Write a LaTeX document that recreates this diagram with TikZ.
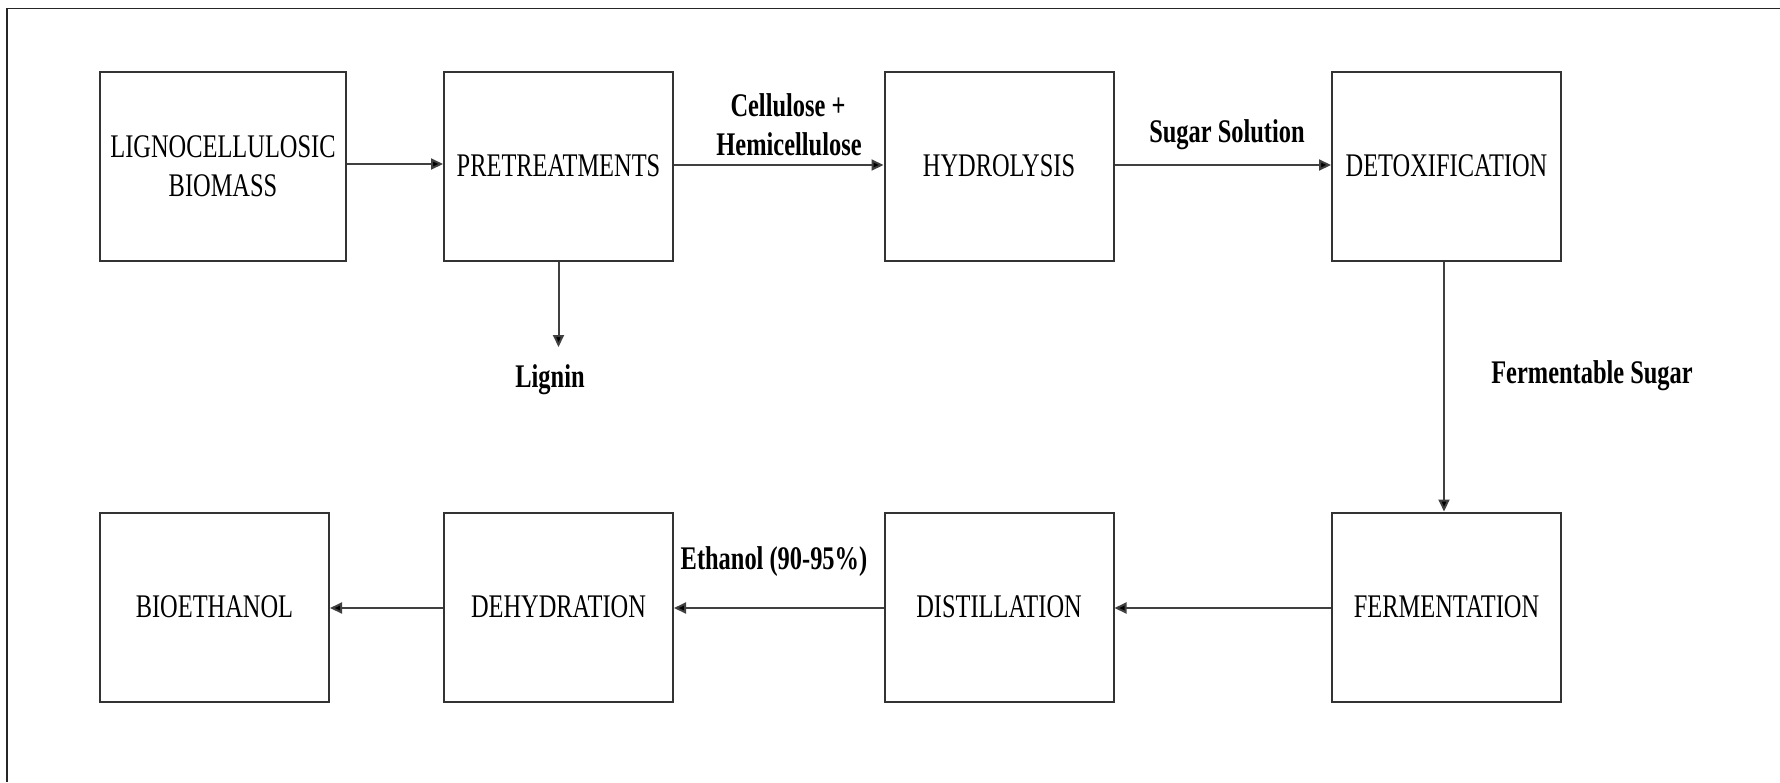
\documentclass[tikz,border=0pt]{standalone}
\usepackage{fontspec}
\setmainfont{Liberation Serif}
\newfontfamily\boxfont[FakeStretch=0.74]{Liberation Serif}
\usetikzlibrary{arrows.meta}
\tikzset{
  stage/.style={draw=black!80, line width=2pt, fill=white, inner sep=0pt,
    minimum width=229pt, minimum height=189pt, align=center,
    font=\boxfont\fontsize{33}{39}\selectfont},
  flow/.style={draw=black!75, line width=2pt,
    -{Triangle[length=12pt,width=11pt,fill=black]}},
  lbl/.style={font=\boxfont\fontsize{33}{39}\selectfont\bfseries, inner sep=0pt, anchor=base}
}
\begin{document}
\begin{tikzpicture}[x=1pt,y=-1pt]
  \useasboundingbox (0,0) rectangle (1780,782);
  % outer frame (only top and left edges fall inside the page)
  \draw[line width=1.5pt, black!85] (7,782) -- (7,8.5) -- (1780,8.5);

  % process stages, top row
  \node[stage, minimum width=246pt] (bio) at (223,166) {LIGNOCELLULOSIC\\BIOMASS};
  \node[stage] (pre) at (558.5,166) {PRETREATMENTS};
  \node[stage] (hyd) at (999,166) {HYDROLYSIS};
  \node[stage] (det) at (1446.5,166) {DETOXIFICATION};
  % process stages, bottom row
  \node[stage] (fer) at (1446.5,607) {FERMENTATION};
  \node[stage] (dis) at (999,607) {DISTILLATION};
  \node[stage] (deh) at (558.5,607) {DEHYDRATION};
  \node[stage] (eth) at (214.5,607) {BIOETHANOL};

  % stream labels
  \node[lbl] (cel) at (788,116) {Cellulose +};
  \node[lbl] (hem) at (789,155) {Hemicellulose};
  \node[lbl] (sug) at (1227,142) {Sugar Solution};
  \node[lbl] (lig) at (550,387) {Lignin};
  \node[lbl] (fsu) at (1592,383) {Fermentable Sugar};
  \node[lbl] (eto) at (774,569) {Ethanol (90-95\%)};

  \coordinate (ligtip) at (558.5,347);

  % connectors
  \draw[flow] (bio.east |- 0,164) -- (pre.west |- 0,164);
  \draw[flow] (pre.east |- 0,165) -- (hyd.west |- 0,165);
  \draw[flow] (hyd.east |- 0,165) -- (det.west |- 0,165);
  \draw[flow] (pre.south) -- (ligtip);
  \draw[flow] (det.south -| 1444,0) -- (fer.north -| 1444,0);
  \draw[flow] (fer.west |- 0,608) -- (dis.east |- 0,608);
  \draw[flow] (dis.west |- 0,608) -- (deh.east |- 0,608);
  \draw[flow] (deh.west |- 0,608) -- (eth.east |- 0,608);
\end{tikzpicture}
\end{document}
